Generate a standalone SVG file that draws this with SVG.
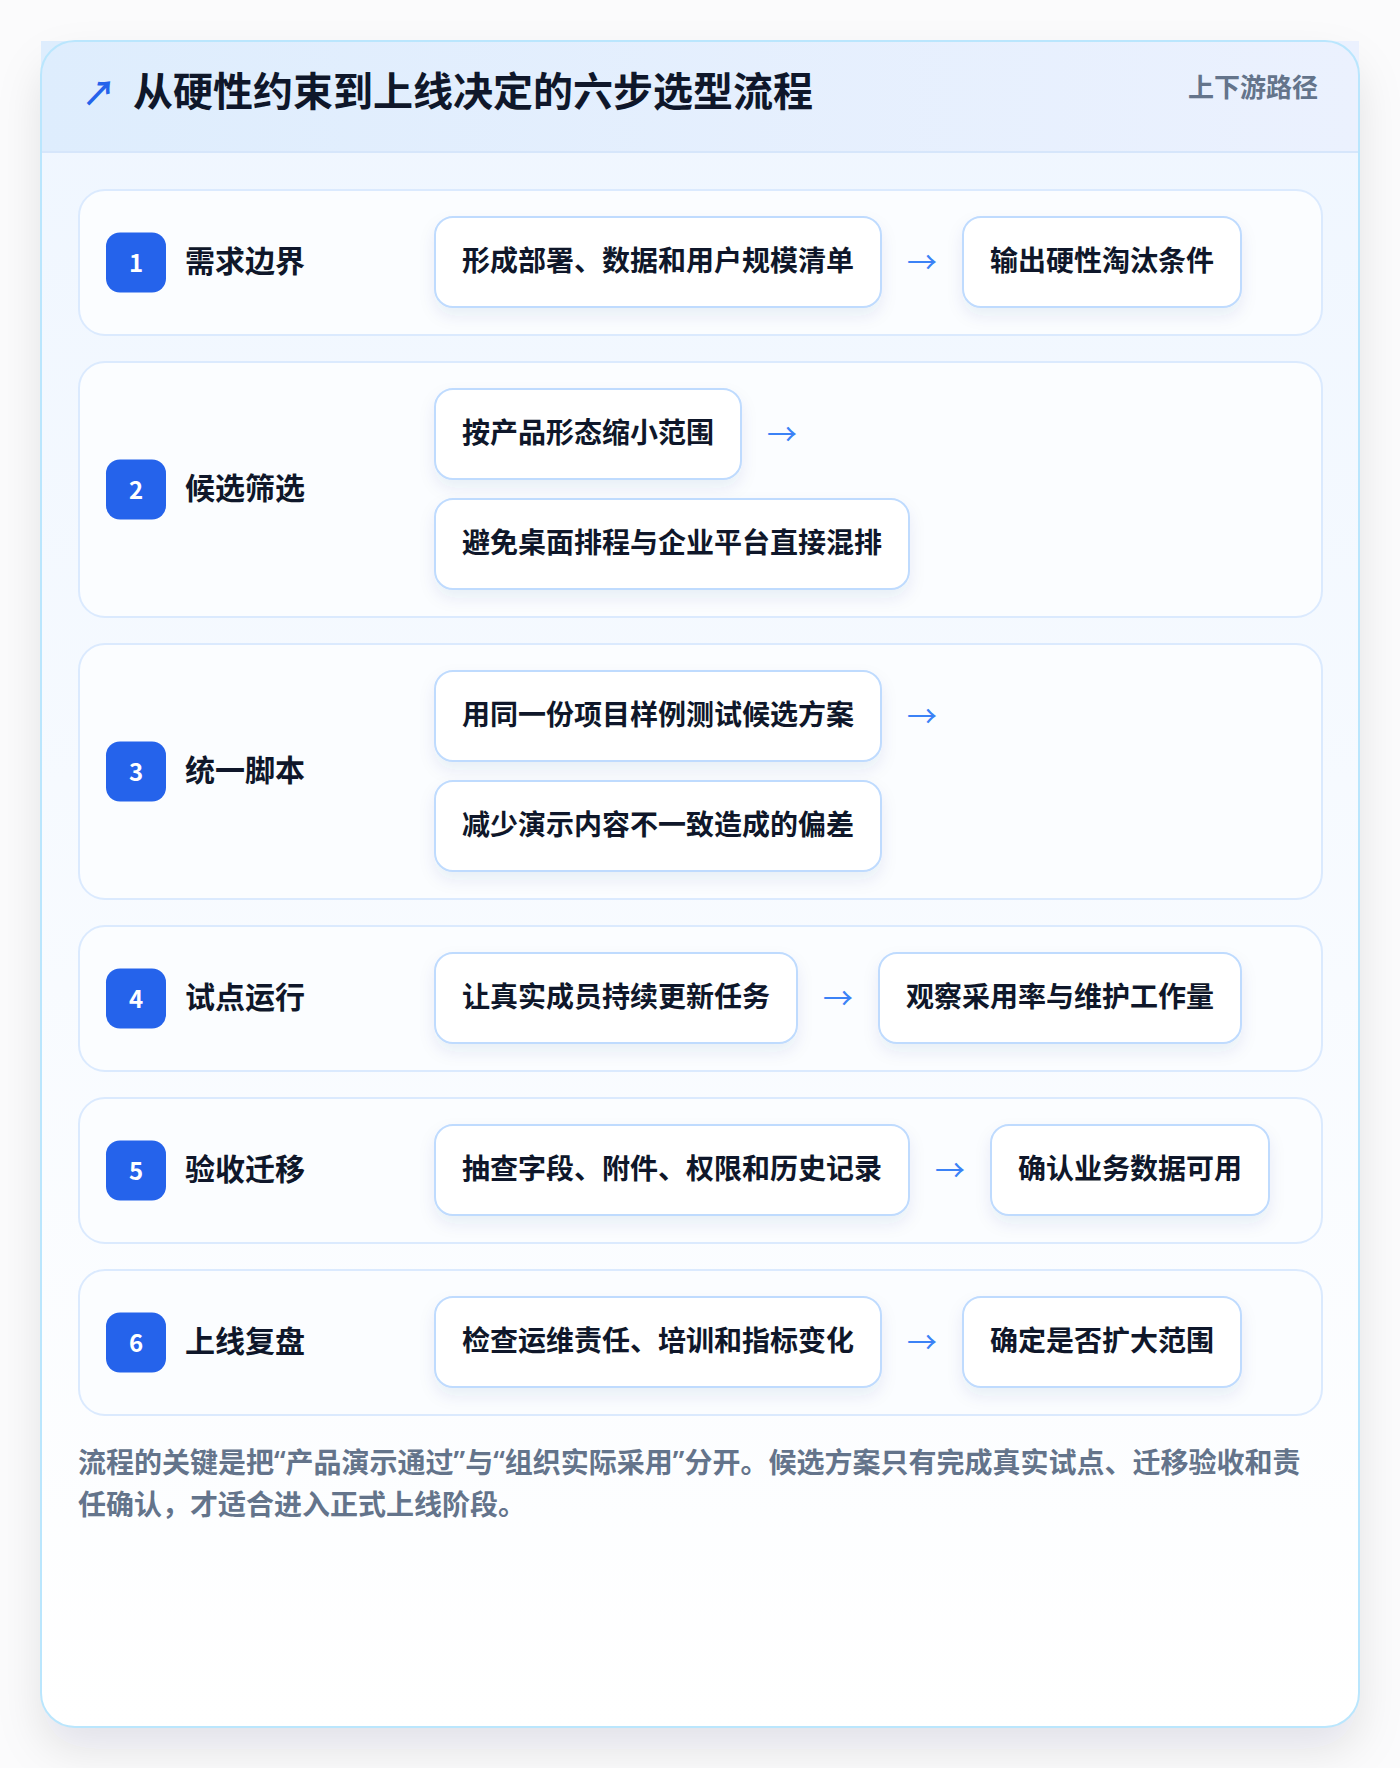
<svg xmlns="http://www.w3.org/2000/svg" width="1400" height="1768" viewBox="0 0 1400 1768">
<defs>
<linearGradient id="hdr" x1="0" y1="0" x2="1" y2="0"><stop offset="0" stop-color="#deedfd"/><stop offset="1" stop-color="#ebf1fe"/></linearGradient>
<linearGradient id="body" x1="0" y1="0" x2="0" y2="1"><stop offset="0" stop-color="#eff6ff"/><stop offset="1" stop-color="#ffffff"/></linearGradient>
<filter id="cardShadow" x="-10%" y="-10%" width="120%" height="120%"><feDropShadow dx="0" dy="22" stdDeviation="22" flood-color="#0f172a" flood-opacity="0.10"/></filter>
<filter id="boxShadow" x="-10%" y="-20%" width="120%" height="160%"><feDropShadow dx="0" dy="8" stdDeviation="8" flood-color="#1e3a8a" flood-opacity="0.08"/></filter>
<style>
text{font-family:"Noto Sans CJK SC","Noto Sans",sans-serif;dominant-baseline:central}
.row{fill:#fbfdff;stroke:#dbeafe;stroke-width:2}
.badge{fill:#2563eb}
.num{fill:#ffffff;font-size:24px;font-weight:700;text-anchor:middle}
.lbl{fill:#0f172a;font-size:30px;font-weight:600}
.box{fill:#ffffff;stroke:#bfdbfe;stroke-width:2}
.bt{fill:#0f172a;font-size:28px;font-weight:700;text-anchor:middle}
.arr{fill:#3b82f6;font-size:30px;text-anchor:middle}
.foot{fill:#64748b;font-size:28px;font-weight:600}
.q{font-family:"Noto Sans","Liberation Sans",sans-serif}
</style>
</defs>
<rect x="0" y="0" width="1400" height="1768" fill="#fbfbfc"/>
<g id="card">
<rect x="41" y="41" width="1318" height="1686" rx="34" fill="url(#body)" filter="url(#cardShadow)"/>
<rect x="41" y="41" width="1318" height="111" fill="url(#hdr)"/>
<line x1="41" y1="152" x2="1359" y2="152" stroke="#d6e6fb" stroke-width="2"/>
<rect x="41" y="41" width="1318" height="1686" rx="34" fill="none" stroke="#bae6fd" stroke-width="2"/>
<text x="99" y="91" fill="#2563eb" font-size="34" font-weight="700" text-anchor="middle">↗</text>
<text x="133" y="89" fill="#0f172a" font-size="40" font-weight="700">从硬性约束到上线决定的六步选型流程</text>
<text x="1318" y="85" fill="#64748b" font-size="26" font-weight="600" text-anchor="end">上下游路径</text>
</g>
<g id="step1">
<rect class="row" x="79" y="190" width="1243" height="145" rx="26"/>
<rect class="badge" x="106" y="232.5" width="60" height="60" rx="14"/>
<text class="num" x="136" y="261">1</text>
<text class="lbl" x="185" y="259">需求边界</text>
<rect class="box" x="435" y="217" width="446" height="90" rx="18" filter="url(#boxShadow)"/>
<text class="bt" x="658" y="259">形成部署、数据和用户规模清单</text>
<rect class="box" x="963" y="217" width="278" height="90" rx="18" filter="url(#boxShadow)"/>
<text class="bt" x="1102" y="259">输出硬性淘汰条件</text>
</g>
<g id="step2">
<rect class="row" x="79" y="362" width="1243" height="255" rx="26"/>
<rect class="badge" x="106" y="459.5" width="60" height="60" rx="14"/>
<text class="num" x="136" y="488">2</text>
<text class="lbl" x="185" y="486">候选筛选</text>
<rect class="box" x="435" y="389" width="306" height="90" rx="18" filter="url(#boxShadow)"/>
<text class="bt" x="588" y="431">按产品形态缩小范围</text>
<rect class="box" x="435" y="499" width="474" height="90" rx="18" filter="url(#boxShadow)"/>
<text class="bt" x="672" y="541">避免桌面排程与企业平台直接混排</text>
</g>
<g id="step3">
<rect class="row" x="79" y="644" width="1243" height="255" rx="26"/>
<rect class="badge" x="106" y="741.5" width="60" height="60" rx="14"/>
<text class="num" x="136" y="770">3</text>
<text class="lbl" x="185" y="768">统一脚本</text>
<rect class="box" x="435" y="671" width="446" height="90" rx="18" filter="url(#boxShadow)"/>
<text class="bt" x="658" y="713">用同一份项目样例测试候选方案</text>
<rect class="box" x="435" y="781" width="446" height="90" rx="18" filter="url(#boxShadow)"/>
<text class="bt" x="658" y="823">减少演示内容不一致造成的偏差</text>
</g>
<g id="step4">
<rect class="row" x="79" y="926" width="1243" height="145" rx="26"/>
<rect class="badge" x="106" y="968.5" width="60" height="60" rx="14"/>
<text class="num" x="136" y="997">4</text>
<text class="lbl" x="185" y="995">试点运行</text>
<rect class="box" x="435" y="953" width="362" height="90" rx="18" filter="url(#boxShadow)"/>
<text class="bt" x="616" y="995">让真实成员持续更新任务</text>
<rect class="box" x="879" y="953" width="362" height="90" rx="18" filter="url(#boxShadow)"/>
<text class="bt" x="1060" y="995">观察采用率与维护工作量</text>
</g>
<g id="step5">
<rect class="row" x="79" y="1098" width="1243" height="145" rx="26"/>
<rect class="badge" x="106" y="1140.5" width="60" height="60" rx="14"/>
<text class="num" x="136" y="1169">5</text>
<text class="lbl" x="185" y="1167">验收迁移</text>
<rect class="box" x="435" y="1125" width="474" height="90" rx="18" filter="url(#boxShadow)"/>
<text class="bt" x="672" y="1167">抽查字段、附件、权限和历史记录</text>
<rect class="box" x="991" y="1125" width="278" height="90" rx="18" filter="url(#boxShadow)"/>
<text class="bt" x="1130" y="1167">确认业务数据可用</text>
</g>
<g id="step6">
<rect class="row" x="79" y="1270" width="1243" height="145" rx="26"/>
<rect class="badge" x="106" y="1312.5" width="60" height="60" rx="14"/>
<text class="num" x="136" y="1341">6</text>
<text class="lbl" x="185" y="1339">上线复盘</text>
<rect class="box" x="435" y="1297" width="446" height="90" rx="18" filter="url(#boxShadow)"/>
<text class="bt" x="658" y="1339">检查运维责任、培训和指标变化</text>
<rect class="box" x="963" y="1297" width="278" height="90" rx="18" filter="url(#boxShadow)"/>
<text class="bt" x="1102" y="1339">确定是否扩大范围</text>
</g>
<g id="connectors">
<text class="arr" x="922" y="260">→</text>
<text class="arr" x="782" y="432">→</text>
<text class="arr" x="922" y="714">→</text>
<text class="arr" x="838" y="996">→</text>
<text class="arr" x="950" y="1168">→</text>
<text class="arr" x="922" y="1340">→</text>
</g>
<g id="footer">
<text class="foot" x="78" y="1461">流程的关键是把<tspan class="q">“</tspan>产品演示通过<tspan class="q">”</tspan>与<tspan class="q">“</tspan>组织实际采用<tspan class="q">”</tspan>分开。候选方案只有完成真实试点、迁移验收和责</text>
<text class="foot" x="78" y="1503">任确认，才适合进入正式上线阶段。</text>
</g>
</svg>
